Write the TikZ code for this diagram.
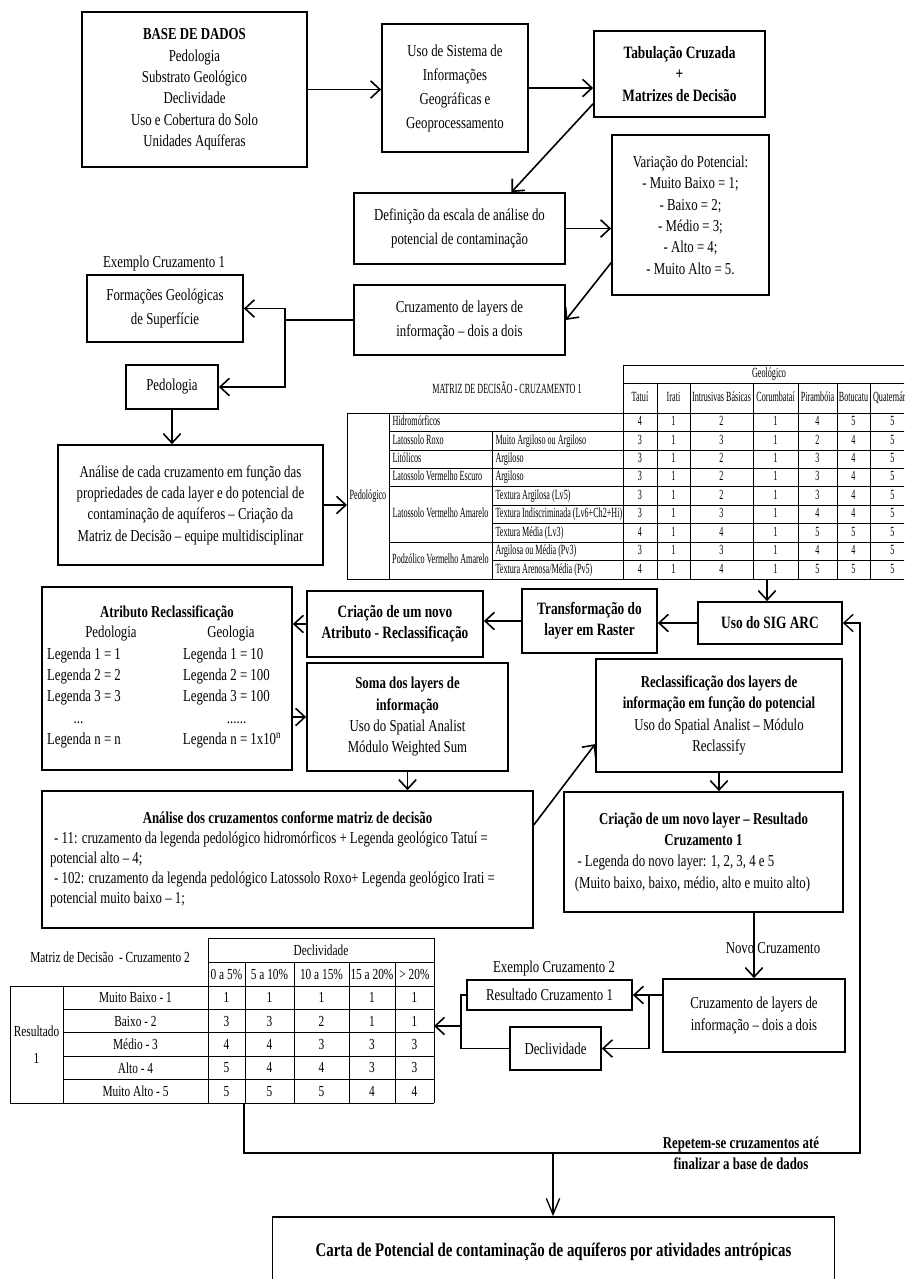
\documentclass[tikz,border=0pt]{standalone}
\usepackage{fontspec}
\setmainfont[FakeStretch=0.77]{Liberation Serif}
\newfontfamily\tabfontA[FakeStretch=0.58]{Liberation Serif}
\newfontfamily\tabfontB[FakeStretch=0.74]{Liberation Serif}
\usetikzlibrary{arrows.meta}

\tikzset{every picture/.style={line width=0.75pt}}
\tikzset{
  box/.style={draw, line width=1.3pt, align=center, inner sep=2pt, font=\fontsize{12.5}{16}\selectfont},
  boldbox/.style={box, font=\fontsize{13}{16}\selectfont\bfseries},
  arr/.style={line width=1.2pt, -{Straight Barb[length=7pt,width=13pt]}},
  link/.style={line width=1.2pt},
  loopline/.style={line width=1pt, -{Straight Barb[length=7pt,width=13pt]}},
  downline/.style={line width=1pt, -{Straight Barb[length=12pt,width=10pt]}},
  tline/.style={line width=0.6pt},
  lbl/.style={inner sep=0pt, align=center, font=\fontsize{12.5}{16}\selectfont},
  cellA/.style={inner sep=0pt, text height=7pt, text depth=2pt, font=\tabfontA\fontsize{10.5}{11}\selectfont},
  cellB/.style={inner sep=0pt, font=\tabfontB\fontsize{11.5}{12}\selectfont},
}
\def\colsA{{640,673.5,721.5,775.5,817.5,853.5,892.5}}
\def\colsB{{226.5,269.5,321.5,372,414.5}}

\begin{document}
\begin{tikzpicture}[x=0.75pt,y=0.75pt,yscale=-1,xscale=1]
\useasboundingbox (0,0) rectangle (904,1279);
\clip (0,0) rectangle (904,1279);

%Shape: Rectangle [top row]
\node[box, minimum width=168.75pt, minimum height=116.25pt] (base) at (194.5,89.5) {\textbf{BASE DE DADOS}\\Pedologia\\Substrato Geológico\\Declividade\\Uso e Cobertura do Solo\\Unidades Aquíferas};
\node[box, minimum width=109.5pt, minimum height=96pt, font=\fontsize{12.5}{18}\selectfont] (sig) at (455,88) {Uso de Sistema de\\Informações\\Geográficas e\\Geoprocessamento};
\node[box, minimum width=128.25pt, minimum height=64.5pt, font=\fontsize{13}{16}\selectfont\bfseries] (tab) at (679.5,74) {Tabulação Cruzada\\+\\Matrizes de Decisão};
\node[box, minimum width=117.75pt, minimum height=120pt] (var) at (690.5,215) {Variação do Potencial:\\- Muito Baixo = 1;\\- Baixo = 2;\\- Médio = 3;\\- Alto = 4;\\- Muito Alto = 5.};
\node[box, minimum width=158.25pt, minimum height=53.25pt, font=\fontsize{12.5}{18}\selectfont] (def) at (459.5,228.5) {Definição da escala de análise do\\potencial de contaminação};
\node[box, minimum width=158.25pt, minimum height=52.5pt, font=\fontsize{12.5}{18}\selectfont] (cruz) at (459.5,320) {Cruzamento de layers de\\informação – dois a dois};

% Text Node
\node[lbl] (ex1) at (164,263) {Exemplo Cruzamento 1};
\node[box, minimum width=117pt, minimum height=50.25pt, font=\fontsize{12.5}{18}\selectfont] (form) at (165,308.5) {Formações Geológicas\\de Superfície};
\node[box, minimum width=69pt, minimum height=33pt] (ped) at (172,387) {Pedologia};
\node[box, minimum width=198.75pt, minimum height=90pt] (anal) at (190.5,505) {Análise de cada cruzamento em função das\\propriedades de cada layer e do potencial de\\contaminação de aquíferos – Criação da\\Matriz de Decisão – equipe multidisciplinar};

%Straight Lines [top arrows]
\draw[arr] (base.east) -- (base.east -| sig.west);
\draw[arr] (sig.east) -- (sig.east -| tab.west);
\draw[arr] (tab.199) -- (def.35);
\draw[arr] (def.east) -- (def.east -| var.west);
\draw[arr] (var.211) -- (cruz.east);
\coordinate (jc) at (285,320);
\draw[arr] (cruz.west) -- (jc) |- (form.east);
\draw[arr] (jc) |- (ped.east);
\draw[arr] (ped.south) -- (ped.south |- anal.north);

% Table: matriz de decisao 1
\node[cellA] (t1title) at (507,390) {MATRIZ DE DECISÃO - CRUZAMENTO 1};
\draw[tline] (623,365) -- (915,365) (623,383) -- (915,383) (347,413) -- (915,413) (347,579) -- (915,579);
\foreach \y in {431.4,449.9,468.3,486.8,542.1} \draw[tline] (389,\y) -- (915,\y);
\foreach \y in {505.2,523.7,560.6} \draw[tline] (492,\y) -- (915,\y);
\draw[tline] (347,413) -- (347,579) (389,413) -- (389,579) (492,431.4) -- (492,579) (623,365) -- (623,579);
\foreach \x in {657,690,753,798,837,870} \draw[tline] (\x,383) -- (\x,579);
\node[cellA] (geo) at (769,374) {Geológico};
\foreach \h/\cx [count=\k] in {Tatuí/640,Irati/673.5,Intrusivas Básicas/721.5,Corumbataí/775.5,Pirambóia/817.5,Botucatu/853.5,Quaternário/892.5}
  \node[cellA] (h1-\k) at (\cx,398) {\h};
\node[cellA] (pedo) at (368,496) {Pedológico};
\node[cellA, anchor=west] (s1) at (392,422.2) {Hidromórficos};
\node[cellA, anchor=west] (s2) at (392,440.7) {Latossolo Roxo};
\node[cellA, anchor=west] (s3) at (392,459.1) {Litólicos};
\node[cellA, anchor=west] (s4) at (392,477.6) {Latossolo Vermelho Escuro};
\node[cellA] (s5) at (440.5,514.4) {Latossolo Vermelho Amarelo};
\node[cellA] (s6) at (440.5,560.6) {Podzólico Vermelho Amarelo};
\foreach \t/\ty [count=\k] in {Muito Argiloso ou Argiloso/440.7,Argiloso/459.1,Argiloso/477.6,Textura Argilosa (Lv5)/496.0,Textura Indiscriminada (Lv6+Ch2+Hi)/514.4,Textura Média (Lv3)/532.9,Argilosa ou Média (Pv3)/551.4,{Textura Arenosa/Média (Pv5)}/569.8}
  \node[cellA, anchor=west] (tx-\k) at (495,\ty) {\t};
\foreach \vals [count=\r] in {{4,1,2,1,4,5,5},{3,1,3,1,2,4,5},{3,1,2,1,3,4,5},{3,1,2,1,3,4,5},{3,1,2,1,3,4,5},{3,1,3,1,4,4,5},{4,1,4,1,5,5,5},{3,1,3,1,4,4,5},{4,1,4,1,5,5,5}}{
  \foreach \v [count=\k] in \vals {
    \pgfmathsetmacro\cx{\colsA[\k-1]}
    \pgfmathsetmacro\cy{413+(\r-0.5)*18.44}
    \node[cellA] (m1-\r-\k) at (\cx,\cy) {\v};
  }
}
\coordinate (t1w) at (347,507);
\coordinate (t1s) at (767,579);
\draw[arr] (anal.east) -- (anal.east -| t1w);

%Shape: Rectangle [middle row]
\node[boldbox, minimum width=108pt, minimum height=31.5pt] (sigarc) at (770,623) {Uso do SIG ARC};
\node[boldbox, minimum width=101.25pt, minimum height=48pt] (transf) at (589.5,621) {Transformação do\\layer em Raster};
\node[boldbox, minimum width=132pt, minimum height=49.5pt] (criaatr) at (395,624) {Criação de um novo\\Atributo - Reclassificação};
\node[box, minimum width=187.5pt, minimum height=137.25pt] (atrib) at (167,678.5) {\textbf{Atributo Reclassificação}\\
  \begin{tabular}{@{}p{90pt}p{78pt}@{}}
  \multicolumn{1}{c}{Pedologia} & \multicolumn{1}{c}{Geologia}\\
  Legenda 1 = 1 & Legenda 1 = 10\\
  Legenda 2 = 2 & Legenda 2 = 100\\
  Legenda 3 = 3 & Legenda 3 = 100\\
  \hspace{20pt}... & \hspace{33pt}......\\
  Legenda n = n & Legenda n = 1x10\textsuperscript{n}
  \end{tabular}};
\node[box, minimum width=150.75pt, minimum height=81pt] (soma) at (407.5,717) {\textbf{Soma dos layers de}\\\textbf{informação}\\Uso do Spatial Analist\\Módulo Weighted Sum};
\node[box, minimum width=184.5pt, minimum height=84.75pt] (reclass) at (719,715.5) {\textbf{Reclassificação dos layers de}\\\textbf{informação em função do potencial}\\Uso do Spatial Analist – Módulo\\Reclassify};
\node[box, minimum width=368.25pt, minimum height=102.75pt, align=flush left, text width=356pt, inner xsep=6pt, font=\fontsize{12.5}{15}\selectfont] (analcruz) at (287.5,859.5) {\makebox[\linewidth]{\textbf{Análise dos cruzamentos conforme matriz de decisão}}\\
  \hspace*{3pt}- 11: cruzamento da legenda pedológico hidromórficos + Legenda geológico Tatuí =\\
  potencial alto – 4;\\
  \hspace*{3pt}- 102: cruzamento da legenda pedológico Latossolo Roxo+ Legenda geológico Irati =\\
  potencial muito baixo – 1;};
\node[box, minimum width=209.25pt, minimum height=90pt, align=flush left, text width=199pt, inner xsep=5pt] (crialayer) at (703.5,852) {\makebox[\linewidth]{\textbf{Criação de um novo layer – Resultado}}\\
  \makebox[\linewidth]{\textbf{Cruzamento 1}}\\
  \hspace*{5pt}- Legenda do novo layer: 1, 2, 3, 4 e 5\\
  \hspace*{3pt}(Muito baixo, baixo, médio, alto e muito alto)};

%Straight Lines [middle arrows]
\draw[arr] (t1s) -- (t1s |- sigarc.north);
\draw[arr] (sigarc.west) -- (sigarc.west -| transf.east);
\draw[arr] (transf.west) -- (transf.west -| criaatr.east);
\draw[arr] (criaatr.west) -- (criaatr.west -| atrib.east);
\draw[arr] (soma.west -| atrib.east) -- (soma.west);
\draw[arr] (soma.south) -- (soma.south |- analcruz.north);
\draw[arr] (analcruz.8) -- (reclass.193);
\draw[arr] (reclass.south) -- (reclass.south |- crialayer.north);

%Shape: Rectangle [bottom row]
\node[box, minimum width=136.5pt, minimum height=54.75pt] (cruz2) at (754,1015.5) {Cruzamento de layers de\\informação – dois a dois};
\node[lbl] (ex2) at (554,968) {Exemplo Cruzamento 2};
\node[box, minimum width=123.75pt, minimum height=22.5pt] (res1) at (549.5,995) {Resultado Cruzamento 1};
\node[box, minimum width=68.25pt, minimum height=32.25pt] (decl) at (555.5,1048.5) {Declividade};
\node[box, minimum width=421.5pt, minimum height=52.5pt, font=\fontsize{14.5}{16}\selectfont\bfseries] (carta) at (553.5,1252) {Carta de Potencial de contaminação de aquíferos por atividades antrópicas};

% Table: matriz de decisao 2
\node[cellB] (t2title) at (110,957) {Matriz de Decisão\ \ - Cruzamento 2};
\draw[tline] (208,938) -- (434,938) (208,962) -- (434,962) (10,986) -- (434,986) (10,1103) -- (434,1103);
\foreach \y in {1009.4,1032.8,1056.2,1079.6} \draw[tline] (63,\y) -- (434,\y);
\draw[tline] (10,986) -- (10,1103) (63,986) -- (63,1103) (208,938) -- (208,1103) (434,938) -- (434,1103);
\foreach \x in {245,294,349,395} \draw[tline] (\x,962) -- (\x,1103);
\node[cellB] (decl2) at (321,950) {Declividade};
\foreach \h/\cx [count=\k] in {0 a 5\%/226.5,5 a 10\%/269.5,10 a 15\%/321.5,15 a 20\%/372,> 20\%/414.5}
  \node[cellB] (h2-\k) at (\cx,974) {\h};
\node[cellB, align=center, font=\tabfontB\fontsize{11.5}{20}\selectfont] (resl) at (36.5,1044.5) {Resultado\\1};
\foreach \t [count=\r] in {Muito Baixo - 1,Baixo - 2,Médio - 3,Alto - 4,Muito Alto - 5}{
  \pgfmathsetmacro\cy{986+(\r-0.5)*23.4}
  \node[cellB] (l2-\r) at (135.5,\cy) {\t};
}
\foreach \vals [count=\r] in {{1,1,1,1,1},{3,3,2,1,1},{4,4,3,3,3},{5,4,4,3,3},{5,5,5,4,4}}{
  \foreach \v [count=\k] in \vals {
    \pgfmathsetmacro\cx{\colsB[\k-1]}
    \pgfmathsetmacro\cy{986+(\r-0.5)*23.4}
    \node[cellB] (m2-\r-\k) at (\cx,\cy) {\v};
  }
}
\coordinate (t2e) at (434,1026);
\coordinate (t2s) at (244,1103);

%Straight Lines [bottom arrows]
\draw[arr] (cruz2.north |- crialayer.south) -- (cruz2.north);
\node[lbl] (novo) at (773,948) {Novo Cruzamento};
\coordinate (j2) at (649,995);
\draw[arr] (cruz2.west |- res1.east) -- (res1.east);
\draw[arr] (j2) |- (decl.east);
\coordinate (j3) at (461,1026);
\draw[link] (res1.west) -| (j3) |- (decl.west);
\draw[arr] (j3) -- (j3 -| t2e);
\coordinate (lp) at (860,1153);
\coordinate (lpm) at (553,1153);
\draw[loopline] (t2s) |- (lp) |- (sigarc.east);
\draw[downline] (lpm) -- (lpm |- carta.north);
\node[lbl, font=\fontsize{12.5}{16}\selectfont\bfseries] (rep) at (741,1153) {Repetem-se cruzamentos até\\finalizar a base de dados};

\end{tikzpicture}
\end{document}
